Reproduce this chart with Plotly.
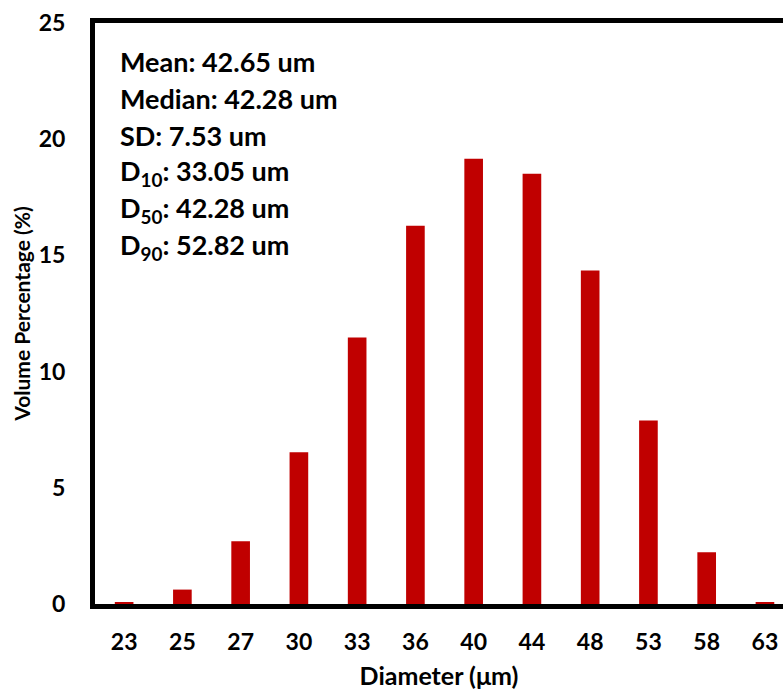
import plotly.graph_objects as go

# Particle size classes (µm) and their volume share (%)
diameters = ["23", "25", "27", "30", "33", "36", "40", "44", "48", "53", "58", "63"]
volume_pct = [0.06, 0.62, 2.70, 6.53, 11.47, 16.28, 19.16, 18.51, 14.35, 7.90, 2.23, 0.06]

stats_lines = [
    "Mean: 42.65 um",
    "Median: 42.28 um",
    "SD: 7.53 um",
    "D<sub>10</sub>: 33.05 um",
    "D<sub>50</sub>: 42.28 um",
    "D<sub>90</sub>: 52.82 um",
]

FONT = "Lato, Carlito, Calibri, sans-serif"
BAR_RED = "#C00000"

fig = go.Figure(
    go.Bar(
        x=list(range(len(diameters))),
        y=volume_pct,
        width=0.32,
        marker=dict(color=BAR_RED, line=dict(width=0)),
    )
)

fig.update_layout(
    width=783,
    height=692,
    margin=dict(l=95, r=0, t=23, b=88),
    paper_bgcolor="white",
    plot_bgcolor="white",
    showlegend=False,
    font=dict(family=FONT, color="black"),
    xaxis=dict(
        tickmode="array",
        tickvals=list(range(len(diameters))),
        ticktext=diameters,
        range=[-0.5, 11.31],
        showline=True,
        linewidth=5,
        linecolor="black",
        mirror=True,
        showgrid=False,
        zeroline=False,
        ticks="",
        ticklabelstandoff=13,
        tickfont=dict(family=FONT, size=23, color="black", weight="bold"),
        title=dict(
            text="<b>Diameter (μm)</b>",
            font=dict(family=FONT, size=25, color="black"),
            standoff=15,
        ),
    ),
    yaxis=dict(
        range=[0, 25],
        tickvals=[0, 5, 10, 15, 20, 25],
        showline=True,
        linewidth=5,
        linecolor="black",
        showgrid=False,
        zeroline=False,
        ticks="",
        ticklabelstandoff=20,
        tickfont=dict(family=FONT, size=23, color="black", weight="bold"),
        title=dict(
            text="<b>Volume Percentage (%)</b>",
            font=dict(family=FONT, size=21, color="black"),
            standoff=4,
        ),
    ),
)

for i, line in enumerate(stats_lines):
    fig.add_annotation(
        x=0.0, y=1.0,
        xref="paper", yref="paper",
        xanchor="left", yanchor="middle",
        xshift=23, yshift=-38 - 37 * i,
        text="<b>" + line + "</b>",
        showarrow=False,
        align="left",
        font=dict(family=FONT, size=27, color="black"),
    )

fig.write_html("out.html")
